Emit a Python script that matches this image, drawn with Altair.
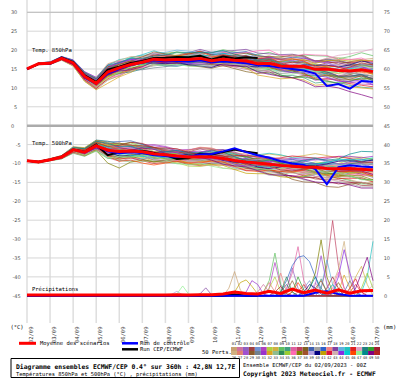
import json
import altair as alt
import pandas as pd

MONO = "DejaVu Sans Mono"
SANS = "DejaVu Sans"

# ---------------- time axis ----------------
day_hours = [0, 24, 48, 72, 96, 120, 144, 168, 192, 216, 240, 264, 288, 312, 336, 360]
date_labels = ["02/09", "03/09", "04/09", "05/09", "06/09", "07/09", "08/09", "09/09",
               "10/09", "11/09", "12/09", "13/09", "14/09", "15/09", "16/09", "17/09"]
hours12 = list(range(0, 361, 12))
hours6 = list(range(0, 361, 6))
op_hours = hours12[:21]
mem_hours = [0, 12, 24, 36, 48, 60, 72, 84, 96, 120, 144, 168, 192, 216, 240, 264, 288, 312, 336, 360]
mid_hours = [108, 132, 156, 180, 204, 228, 252, 276, 300, 324, 348]

# ---------------- axis labels ----------------
grid_vals = [30, 25, 20, 15, 10, 5, 0, -5, -10, -15, -20, -25, -30, -35, -40, -45]
left_upper = [30, 25, 20, 15, 10, 5]
left_lower = [-5, -10, -15, -20, -25, -30, -35, -40, -45]
right_ticks = [75, 70, 65, 60, 55, 50, 45, 40, 35, 30, 25, 20, 15, 10, 5]

# ---------------- 850 hPa (°C) ----------------
mean850 = [15.0, 16.4, 16.5, 17.8, 16.6, 13.0, 11.2, 14.2, 15.3, 16.2, 16.8, 17.6, 17.4, 17.5, 17.5, 17.8,
           17.2, 17.6, 17.3, 17.1, 16.4, 16.5, 15.8, 15.7, 15.7, 14.9, 15.0, 14.6, 14.5, 14.8, 14.3]
ctrl850 = [15.0, 16.4, 16.4, 17.9, 16.4, 12.7, 11.0, 13.8, 15.0, 16.0, 16.7, 17.3, 17.0, 17.2, 17.0, 17.3,
           16.8, 17.0, 16.8, 16.5, 16.0, 15.8, 15.4, 15.0, 14.6, 13.8, 10.5, 11.0, 9.8, 11.8, 11.6]
op850 = [15.0, 16.3, 16.4, 18.0, 16.8, 13.3, 11.5, 14.8, 15.6, 16.6, 17.1, 17.9, 18.0, 18.2, 18.1, 18.5,
         17.5, 18.3, 17.8, 18.1, 17.9]

# ---------------- 500 hPa (°C) ----------------
mean500 = [-9.3, -9.6, -9.0, -8.3, -6.4, -7.0, -5.3, -6.5, -6.8, -6.7, -6.9, -7.4, -7.7, -8.0, -8.3, -8.2,
           -8.3, -8.7, -9.2, -9.6, -9.9, -10.2, -10.5, -10.7, -10.9, -11.0, -11.3, -11.4, -11.3, -11.5, -11.7]
ctrl500 = [-9.3, -9.6, -9.0, -8.3, -6.4, -7.0, -5.3, -6.8, -7.3, -7.0, -7.2, -7.8, -8.0, -8.3, -8.2, -7.6,
           -7.5, -6.8, -6.0, -7.0, -7.8, -8.5, -9.4, -10.0, -10.4, -11.5, -15.5, -11.0, -10.5, -10.8, -11.0]
op500 = [-9.3, -9.6, -9.0, -8.2, -6.3, -6.9, -5.0, -7.8, -7.0, -6.8, -6.6, -7.2, -7.8, -8.8, -8.6, -7.4,
         -7.6, -7.0, -6.3, -6.9, -7.3]

# ---------------- precipitation (mm) ----------------
meanpr = [0.2, 0.2, 0.2, 0.2, 0.2, 0.2, 0.2, 0.2, 0.2, 0.2, 0.2, 0.2, 0.2, 0.3, 0.2, 0.3,
          0.3, 0.5, 1.0, 0.6, 0.5, 1.2, 0.6, 1.8, 0.8, 1.5, 0.7, 1.6, 0.7, 1.3, 1.4]
ctrlpr = [0.0, 0.0, 0.0, 0.0, 0.0, 0.0, 0.0, 0.0, 0.0, 0.0, 0.0, 0.0, 0.0, 0.0, 0.0, 0.0,
          0.0, 0.0, 0.0, 0.0, 0.0, 0.0, 0.0, 0.0, 0.0, 0.8, 1.2, 0.5, 0.0, 0.0, 0.0]
oppr = [0.0, 0.0, 0.0, 0.0, 0.0, 0.0, 0.0, 0.0, 0.0, 0.0, 0.0, 0.0, 0.0, 0.0, 0.0, 0.0,
        0.0, 0.0, 0.4, 0.0, 0.0]

# ------- 50 perturbed members: deviation from the mean (tenths of °C) at mem_hours -------
dev850 = [
    "0 1 2 3 5 8 10 15 12 8 10 12 15 18 20 22 25 28 30 35",
    "0 -1 -2 -3 -6 -10 -12 -18 -15 -12 -10 -14 -16 -18 -20 -24 -26 -30 -32 -36",
    "0 2 3 4 6 5 3 -5 -8 -4 2 6 10 8 4 -2 -8 -12 -6 4",
    "0 -2 -1 2 4 9 12 10 6 -2 -8 -12 -10 -6 2 10 16 20 24 18",
    "0 1 -1 -2 -4 -6 -8 -10 -4 4 10 14 18 20 16 10 4 -4 -10 -16",
    "0 0 1 3 7 12 15 20 18 14 8 2 -4 -10 -16 -20 -22 -26 -30 -34",
    "0 -1 0 -1 -2 -3 2 8 12 16 18 14 10 4 -4 -10 -14 -8 2 12",
    "0 2 2 1 0 -4 -10 -20 -22 -16 -8 0 6 10 14 18 12 6 0 -6",
    "0 -2 -3 -4 -7 -12 -15 -8 -2 6 12 16 20 22 24 26 30 34 38 42",
    "0 1 3 5 8 10 6 2 4 8 4 -2 -8 -14 -20 -26 -30 -34 -38 -44",
    "0 0 -1 -3 -5 -4 -2 4 10 12 6 -4 -10 -6 0 6 2 -6 -14 -20",
    "0 2 1 0 -1 2 6 12 16 10 2 -6 -12 -16 -12 -6 0 8 14 20",
    "0 -1 -2 -1 1 4 8 14 6 -4 -12 -16 -20 -22 -26 -28 -24 -18 -10 -4",
    "0 1 2 4 6 8 10 4 -4 -10 -14 -8 0 8 14 18 22 26 20 14",
    "0 -3 -3 -5 -8 -12 -16 -22 -20 -16 -12 -8 -4 0 4 -4 -12 -20 -26 -30",
    "0 2 4 5 6 3 0 -6 -10 -6 0 8 16 20 22 18 12 4 -4 -12",
    "0 -1 1 2 2 -2 -6 -12 -6 2 8 4 -2 -8 -14 -8 0 10 18 26",
    "0 1 0 -2 -3 -8 -12 -4 4 8 12 18 22 26 28 30 26 20 14 8",
    "0 0 2 3 4 6 4 8 12 18 20 22 18 12 6 0 -6 -14 -22 -30",
    "0 -2 -1 0 3 6 10 18 22 20 16 10 4 -2 -8 -14 -18 -10 -2 6",
    "0 1 1 -1 -4 -9 -14 -18 -12 -6 -2 4 8 4 -2 -10 -18 -26 -34 -40",
    "0 -1 -3 -4 -6 -6 -4 0 6 10 14 10 6 2 8 14 20 28 45 60",
    "0 2 3 3 2 0 -2 -8 -14 -18 -16 -12 -6 0 6 12 8 2 -6 -12",
    "0 0 -2 -2 0 4 6 10 8 4 0 -4 -8 -12 -18 -24 -28 -32 -28 -22",
    "0 1 2 2 1 -1 -4 -2 2 6 10 14 16 12 8 4 10 16 22 28",
    "0 -1 0 1 4 10 14 22 20 14 6 0 -6 -12 -8 -2 4 -2 -8 -14",
    "0 1 -1 -3 -6 -10 -12 -14 -8 0 4 8 12 16 12 6 -2 -10 -18 -24",
    "0 -2 -2 -1 -2 -4 -6 -2 2 -2 -6 -10 -14 -10 -4 4 12 18 10 2",
    "0 2 3 4 5 7 8 6 10 14 16 12 8 14 20 24 28 24 18 12",
    "0 0 0 2 4 2 -2 -10 -16 -20 -18 -14 -10 -6 -10 -14 -8 0 8 16",
    "0 -1 2 4 8 13 16 16 12 6 0 -6 -2 4 10 16 22 16 8 0",
    "0 1 -2 -4 -8 -13 -17 -30 -24 -10 -4 -2 -6 -14 -30 -34 -36 -40 -42 -46",
    "0 0 1 -1 -2 0 3 6 2 -2 2 6 10 6 0 -6 -4 4 12 20",
    "0 2 1 3 3 5 -2 -6 -2 4 -2 -8 -4 2 8 4 -4 -12 -16 -24",
    "0 -1 -2 0 2 -3 -8 -14 -10 -2 6 10 4 -2 -6 2 10 6 -2 -8",
    "0 1 3 2 -1 -6 -10 -16 -20 -14 -6 2 10 18 34 28 32 36 30 24",
    "0 -2 0 -2 -3 2 6 2 -4 -8 -2 4 -2 -8 -4 -12 -20 -16 -24 -18",
    "0 0 -1 1 5 9 12 14 8 2 -4 -2 2 6 2 -4 -10 -16 -22 -18",
    "0 1 2 1 -2 -5 -6 0 4 2 8 12 6 0 -6 -2 6 14 8 2",
    "0 -1 1 -1 0 3 -3 -8 -6 -2 -10 -14 -18 -14 -8 -2 4 10 16 22",
    "0 2 0 1 -1 -4 -7 -12 -14 -8 2 -4 -10 -4 4 12 18 22 26 30",
    "0 -2 -2 -3 -5 -8 -8 -6 0 6 2 -2 2 8 14 8 0 -8 -14 -20",
    "0 1 1 2 3 4 2 -2 6 12 6 0 -6 -12 -18 -14 -6 2 -4 -10",
    "0 0 2 4 6 7 9 10 14 4 -4 -10 -6 2 -2 -10 -16 -22 -28 -34",
    "0 -1 -1 -2 -1 -2 0 4 0 -6 -2 8 14 10 4 -2 -8 -2 6 -4",
    "0 1 -1 0 1 0 -5 -10 -6 0 10 16 12 6 12 18 14 8 2 -6",
    "0 -2 1 2 0 -5 -9 -16 -12 -8 -14 -18 -14 -8 -14 -20 -14 -6 2 10",
    "0 2 2 3 6 11 13 18 14 10 14 18 22 16 10 6 -2 -8 -14 -20",
    "0 0 -2 -3 -4 -1 1 -4 -8 -12 -8 -4 -8 -14 -22 -28 -40 -45 -55 -70",
    "0 1 0 -1 1 5 4 8 4 0 -6 -2 4 10 6 2 -4 2 10 18",
]
# deviations (tenths of °C) at mid_hours
dev850_mid = [
    "6 13 8 17 13 24 16 28 21 34 27",
    "-18 -8 -10 -20 -13 -22 -18 -30 -24 -36 -30",
    "-2 -5 9 4 14 2 6 -10 -5 -15 4",
    "5 -9 -6 -15 -4 -6 10 9 23 17 26",
    "-4 10 8 20 15 22 9 12 -5 -2 -18",
    "12 15 1 3 -11 -9 -23 -16 -29 -23 -38",
    "18 13 20 8 11 -4 -3 -17 -6 -8 12",
    "-15 -16 0 -1 12 8 20 11 14 -2 2",
    "6 5 18 14 25 19 29 24 36 31 45",
    "2 10 -3 -1 -15 -13 -27 -24 -36 -32 -46",
    "15 5 5 -11 -4 -7 7 0 2 -14 -13",
    "9 10 -6 -5 -18 -10 -13 1 0 15 13",
    "5 -12 -10 -22 -17 -28 -23 -30 -17 -18 -3",
    "-11 -8 -15 0 0 15 12 24 20 27 13",
    "-14 -18 -6 -10 2 -2 4 -12 -12 -27 -24",
    "-12 1 0 16 14 25 16 19 4 4 -12",
    "2 1 10 -3 -1 -15 -7 -8 9 10 26",
    "2 14 11 24 20 31 25 32 19 21 7",
    "19 15 25 16 19 5 7 -7 -6 -22 -22",
    "17 22 9 11 -3 -1 -15 -12 -18 -2 -2",
    "-13 0 -3 10 2 5 -10 -10 -26 -26 -41",
    "4 16 8 12 0 9 7 21 20 40 48",
    "-20 -13 -18 -5 -7 7 5 14 1 2 -13",
    "10 -2 2 -10 -6 -19 -17 -30 -26 -34 -21",
    "0 12 8 19 10 14 2 11 9 23 21",
    "21 6 7 -7 -5 -14 -1 -3 5 -9 -7",
    "0 -2 10 6 18 10 13 -2 -2 -18 -17",
    "4 -8 -4 -16 -8 -11 4 4 19 10 10",
    "8 19 10 14 7 21 18 30 22 25 11",
    "-14 -23 -12 -16 -4 -12 -8 -15 0 0 16",
    "13 -1 1 -8 5 3 17 15 23 8 8",
    "-21 -3 -7 0 -14 -18 -36 -31 -42 -37 -48",
    "-4 4 0 12 4 7 -7 -1 -4 12 12",
    "5 -3 -1 -10 3 1 10 -4 -4 -18 -16",
    "-2 -2 12 3 5 -8 2 2 12 -2 -1",
    "-13 -14 2 2 18 22 35 26 38 29 31",
    "-10 -1 -3 5 -9 -2 -12 -12 -22 -16 -25",
    "9 -5 1 -4 8 0 3 -11 -9 -23 -16",
    "-1 9 6 13 -1 1 -8 6 6 15 1",
    "0 -10 -8 -20 -12 -15 -1 -3 11 9 23",
    "-15 1 -5 -3 -11 4 4 19 16 28 24",
    "7 0 4 -4 9 7 15 0 0 -15 -13",
    "5 13 -1 1 -13 -11 -20 -6 -6 3 -11",
    "13 -4 -3 -12 2 -4 -2 -17 -15 -29 -27",
    "1 -8 7 7 16 3 5 -9 -1 -2 5",
    "-7 9 9 18 5 13 11 20 7 9 -6",
    "-6 -15 -12 -20 -7 -15 -13 -21 -6 -6 10",
    "16 8 20 16 23 9 12 -2 -1 -15 -13",
    "-14 -6 -10 -2 -15 -14 -29 -30 -46 -46 -66",
    "6 -7 0 -3 11 4 8 -5 3 2 18",
]
dev500 = [
    "0 1 2 3 6 8 12 18 22 16 10 4 -2 -8 -14 -18 -22 -26 -30 -34",
    "0 -1 -2 -4 -8 -10 -12 -20 -26 -20 -14 -8 -2 4 10 14 18 22 26 20",
    "0 1 0 2 4 2 -4 -10 -6 2 8 14 18 20 16 10 4 -4 -12 -20",
    "0 -2 -1 -2 -3 -6 -8 -4 4 10 14 10 4 -4 -10 -16 -24 -30 -36 -42",
    "0 0 2 4 8 10 13 20 14 6 -2 -10 -16 -20 -18 -12 -6 2 10 18",
    "0 1 -1 -3 -6 -4 0 6 12 18 22 20 14 8 2 -4 -10 -16 -10 -2",
    "0 -1 1 1 2 5 8 2 -6 -14 -20 -24 -20 -14 -8 -2 6 14 22 30",
    "0 2 3 4 5 3 -3 -14 -22 -16 -8 0 8 14 20 26 30 34 30 26",
    "0 -2 -3 -5 -9 -11 -14 -22 -18 -10 -2 6 10 6 0 -8 -16 -24 -32 -38",
    "0 0 1 -1 -1 2 6 12 18 20 16 8 0 -8 -16 -22 -26 -20 -12 -4",
    "0 1 2 2 3 6 10 16 10 2 -4 -8 -12 -16 -20 -24 -20 -14 -6 4",
    "0 -1 -2 -1 -4 -8 -10 -6 0 8 14 18 22 26 24 18 10 2 -6 -14",
    "0 0 -1 1 2 0 -4 -12 -16 -20 -16 -10 -4 2 8 4 -4 -12 -22 -30",
    "0 1 1 3 6 9 14 22 26 20 12 6 2 -4 -10 -6 2 10 18 24",
    "0 -1 0 -2 -5 -7 -10 -16 -10 -4 2 -4 -10 -16 -22 -28 -34 -38 -40 -45",
    "0 2 2 2 0 -2 -2 4 8 12 6 0 -4 0 6 12 16 12 6 0",
    "0 -1 -2 -3 -2 1 4 8 2 -6 -12 -18 -22 -18 -12 -6 0 8 16 12",
    "0 1 0 1 4 7 10 8 14 10 4 12 18 22 18 14 8 0 -8 -16",
    "0 0 2 3 2 -3 -8 -18 -24 -18 -10 -4 0 -6 -12 -18 -14 -6 2 8",
    "0 -2 -1 0 -1 -4 -6 -2 -8 -12 -6 2 10 16 22 28 24 18 12 6",
    "0 1 1 0 -3 -6 -10 -14 -20 -24 -20 -14 -8 -2 4 -2 -10 -18 -26 -32",
    "0 0 -1 -2 -5 -8 -4 6 10 6 12 16 12 6 0 -6 -12 -8 -2 4",
    "0 -1 1 3 7 11 15 24 20 14 8 2 -2 -6 -2 4 10 16 22 28",
    "0 1 -1 -1 0 4 2 -6 -12 -8 -2 4 8 12 8 2 -6 -14 -20 -26",
    "0 2 1 1 3 1 -2 -8 -4 4 10 6 0 -6 -12 -20 -28 -34 -38 -40",
    "0 -1 0 2 5 7 6 14 8 0 -6 -12 -18 -24 -20 -14 -6 4 14 22",
    "0 0 -2 -3 -7 -9 -12 -8 -2 6 12 18 24 20 14 8 2 -4 -10 -16",
    "0 1 2 1 2 5 3 -4 2 8 2 -4 -10 -4 2 8 14 20 14 8",
    "0 -2 -2 -4 -6 -3 -6 -12 -16 -10 -16 -20 -16 -10 -16 -22 -40 -48 -42 -38",
    "0 0 1 0 1 -2 4 10 6 -2 -8 -2 4 10 4 -2 -8 -2 6 14",
    "0 1 -1 -2 -4 -2 -6 -2 6 14 20 14 8 2 8 14 20 26 32 36",
    "0 -1 2 4 8 12 14 20 16 8 2 -6 -12 -8 -2 -8 -14 -20 -14 -8",
    "0 2 0 -1 -3 -6 -8 -16 -24 -26 -20 -12 -6 -12 -18 -24 -18 -10 -2 4",
    "0 0 -1 1 3 4 8 4 -2 -6 0 6 12 18 12 6 0 6 12 18",
    "0 -1 1 2 0 -2 2 14 20 14 6 -2 -8 -2 4 10 4 -2 -10 -18",
    "0 1 0 -2 -2 2 -2 -8 -4 0 -6 -10 -4 2 -4 -10 -16 -24 -16 -8",
    "0 -2 -1 -1 -4 -9 -12 -34 -44 -22 -14 -6 0 6 12 6 -2 -10 -18 -26",
    "0 0 2 3 5 8 11 16 22 16 10 14 20 14 8 2 -4 -10 -4 2",
    "0 1 -2 -2 -2 -1 -3 2 -4 -10 -14 -8 -2 4 10 16 22 16 10 4",
    "0 -1 0 -1 1 3 5 -4 -12 -6 2 8 2 -4 -10 -4 4 12 20 26",
    "0 2 1 2 4 6 9 12 4 -4 -10 -16 -20 -24 -28 -30 -24 -16 -8 0",
    "0 -1 -1 -3 -6 -5 -2 4 10 4 -2 2 8 12 16 20 26 30 26 20",
    "0 1 2 4 6 4 0 -6 0 6 -2 -10 -14 -10 -6 -12 -18 -26 -34 -42",
    "0 0 -2 -2 -1 -4 -6 -10 -6 2 8 2 -4 -10 -4 2 8 2 -6 -12",
    "0 -1 1 1 2 2 4 8 -2 -12 -8 0 6 -2 -8 0 8 16 24 32",
    "0 2 0 -1 -2 0 -2 -16 -26 -30 -22 -16 -10 -16 -22 -16 -8 0 -8 -16",
    "0 -2 -2 -2 -4 -8 -13 -20 -14 -8 -14 -20 -24 -20 -14 -8 -2 -10 -20 -28",
    "0 1 2 3 6 9 12 18 12 4 8 12 16 10 4 10 16 22 38 48",
    "0 0 -1 0 -1 -2 -6 -4 2 10 4 -2 -8 -14 -20 -26 -32 -38 -44 -48",
    "0 1 -1 0 3 6 8 10 16 22 18 12 6 0 -6 -12 -6 0 -6 -12",
]
dev500_mid = [
    "15 17 3 5 -9 -7 -20 -16 -28 -24 -36",
    "-19 -21 -7 -9 5 3 16 12 24 20 27",
    "2 1 15 12 23 14 17 3 4 -12 -12",
    "3 16 8 11 -4 -3 -17 -16 -31 -29 -43",
    "14 -2 -2 -17 -14 -23 -11 -13 2 2 18",
    "11 24 17 21 7 9 -5 -3 -17 -9 -10",
    "-6 -21 -18 -26 -13 -15 -1 -2 14 14 30",
    "-15 -16 0 0 15 13 27 24 36 28 32",
    "-18 -2 -2 12 4 7 -8 -8 -24 -24 -39",
    "23 14 16 0 0 -16 -15 -28 -19 -20 -4",
    "10 -5 -2 -14 -10 -22 -18 -26 -13 -14 3",
    "0 15 12 24 20 29 17 18 2 2 -14",
    "-14 -22 -9 -11 3 1 10 -4 -4 -21 -22",
    "27 12 13 0 3 -11 -4 -6 10 10 25",
    "-11 3 -5 -3 -17 -15 -29 -27 -40 -35 -47",
    "6 13 -1 2 -6 7 5 18 10 13 -1",
    "2 -13 -11 -24 -16 -19 -5 -7 8 8 18",
    "16 3 12 11 24 16 20 7 8 -8 -8",
    "-25 -10 -11 2 -7 -5 -19 -12 -14 2 1",
    "-6 -13 2 2 17 15 29 22 25 11 13",
    "-18 -26 -13 -15 -1 -3 5 -10 -10 -26 -25",
    "12 5 18 10 13 -1 1 -13 -6 -9 5",
    "13 15 1 4 -8 0 -3 11 9 23 21",
    "-14 -1 -3 10 6 14 1 2 -14 -13 -27",
    "4 3 12 -1 1 -13 -12 -28 -27 -40 -35",
    "0 1 -13 -11 -25 -18 -21 -6 -5 13 14",
    "-2 13 11 25 18 21 7 9 -5 -3 -17",
    "9 1 3 -11 -3 -5 9 7 21 13 15",
    "-9 -17 -14 -22 -9 -17 -15 -35 -40 -49 -36",
    "6 -9 -1 -3 11 3 5 -9 -1 -2 14",
    "6 21 13 15 1 9 7 21 19 33 30",
    "16 1 2 -13 -6 -9 -1 -15 -13 -21 -7",
    "-29 -19 -20 -5 -13 -11 -25 -17 -18 -2 -3",
    "0 -7 7 5 19 11 13 -1 7 5 19",
    "21 6 6 -9 -1 -3 11 3 5 -10 -10",
    "-6 1 -12 -3 -5 3 -11 -9 -24 -16 -16",
    "-29 -22 -6 -7 7 5 13 -2 -2 -18 -18",
    "15 17 8 21 13 15 1 3 -11 -3 -5",
    "-3 -16 -7 -9 5 3 17 15 23 9 11",
    "-13 2 1 9 -5 -3 -11 4 4 20 19",
    "4 -11 -9 -22 -18 -30 -25 -31 -16 -16 0",
    "3 5 -4 9 6 18 14 27 24 32 19",
    "7 -2 -2 -16 -8 -12 -5 -19 -18 -34 -34",
    "2 1 9 -5 -3 -11 3 1 9 -6 -5",
    "-11 -6 -8 7 -2 -1 -8 8 8 24 24",
    "-24 -30 -15 -17 -9 -23 -15 -16 0 -8 -8",
    "-15 -7 -21 -18 -26 -13 -15 -1 -10 -11 -28",
    "12 2 14 10 17 3 11 9 23 26 47",
    "2 11 -3 -1 -15 -13 -27 -25 -39 -37 -50",
    "23 16 19 5 7 -7 -5 -13 1 -7 -5",
]

# member precipitation peaks (hour, mm); other 6-hourly steps are dry
precip_spikes = {
    1: [(210, 2.0), (216, 6.4), (222, 1.5)],
    2: [(240, 1.0), (246, 3.0), (252, 1.0)],
    3: [(270, 1.5), (276, 7.4), (282, 2.0)],
    5: [(288, 2.0), (294, 4.0), (300, 1.0)],
    6: [(252, 2.0), (258, 8.8), (264, 2.5)],
    7: [(252, 2.0), (258, 5.0), (264, 1.0)],
    8: [(336, 2.0), (342, 5.0), (348, 7.8), (354, 3.0)],
    9: [(246, 1.0), (252, 4.0), (258, 11.3), (264, 3.0), (270, 0.5)],
    10: [(300, 1.0), (306, 4.5), (312, 1.0)],
    11: [(270, 2.0), (276, 6.0), (282, 13.0), (288, 4.0), (294, 1.0)],
    12: [(306, 2.0), (312, 8.0), (318, 19.9), (324, 8.0), (330, 2.0)],
    13: [(318, 1.0), (324, 3.5), (330, 1.0)],
    14: [(330, 1.0), (336, 4.0), (342, 1.0)],
    16: [(264, 1.0), (270, 4.0), (276, 8.0), (282, 10.2), (288, 10.6), (294, 9.0), (300, 5.0), (306, 1.0)],
    17: [(258, 1.5), (264, 6.0), (270, 1.0)],
    18: [(180, 0.5), (186, 2.1), (192, 0.3)],
    19: [(306, 2.0), (312, 9.5), (318, 3.0)],
    20: [(348, 1.0), (354, 5.0), (360, 14.4)],
    21: [(282, 1.0), (288, 3.0), (294, 0.5), (336, 1.0), (342, 3.0), (348, 1.0)],
    22: [(294, 1.0), (300, 3.5), (306, 1.0)],
    23: [(264, 1.0), (270, 3.0), (276, 1.0)],
    24: [(276, 1.0), (282, 5.0), (288, 1.5)],
    25: [(312, 2.0), (318, 5.0), (324, 2.0)],
    26: [(318, 3.0), (324, 7.0), (330, 14.4), (336, 4.0), (342, 1.0)],
    27: [(246, 1.0), (252, 3.5), (258, 1.0)],
    28: [(300, 3.0), (306, 10.6), (312, 3.0)],
    29: [(270, 1.0), (276, 4.0), (282, 1.0)],
    31: [(228, 1.0), (234, 4.0), (240, 3.0), (246, 0.5)],
    32: [(324, 1.0), (330, 5.5), (336, 2.0)],
    34: [(264, 1.0), (270, 5.0), (276, 1.0)],
    35: [(348, 2.0), (354, 6.0), (360, 2.0)],
    36: [(318, 2.0), (324, 6.2), (330, 2.0)],
    37: [(294, 2.0), (300, 6.0), (306, 14.8), (312, 5.0), (318, 1.0)],
    38: [(300, 2.0), (306, 4.0), (312, 1.0)],
    39: [(150, 0.3), (156, 1.2), (162, 0.2)],
    40: [(288, 1.0), (294, 3.0), (300, 2.0), (306, 0.5)],
    41: [(216, 1.0), (222, 3.5), (228, 4.2), (234, 2.5), (240, 0.5)],
    42: [(336, 2.0), (342, 4.5), (348, 1.0)],
    43: [(354, 1.0), (360, 3.0)],
    44: [(318, 1.0), (324, 5.0), (330, 12.2), (336, 6.0), (342, 1.0)],
    45: [(312, 1.0), (318, 3.0), (324, 1.0)],
    46: [(276, 1.0), (282, 3.5), (288, 1.0)],
    47: [(156, 0.5), (162, 2.6), (168, 0.5)],
    48: [(294, 2.0), (300, 5.0), (306, 2.0)],
    49: [(342, 2.0), (348, 6.0), (354, 10.2), (360, 4.0)],
    50: [(258, 1.0), (264, 2.5), (270, 0.5)],
}

member_colors = [
    "#c8a070", "#d070a0", "#9060c0", "#a04040", "#7090d0", "#b040c0", "#b0d040", "#d0b040", "#60c060", "#40a080",
    "#e060a0", "#c04060", "#806020", "#4060b0", "#a0a0a0", "#3060c8", "#f08080", "#8040a0", "#60b0e0", "#20c0c0",
    "#e02020", "#e0a0c0", "#208080", "#30a030", "#a02030", "#d0b080", "#e08070", "#a050d0", "#8b5a2b", "#708090",
    "#9932cc", "#daa520", "#8fbc8f", "#2e8b57", "#9acd32", "#ff69b4", "#808000", "#a0522d", "#b0a0e0", "#000080",
    "#c0a000", "#dc143c", "#d0b0b0", "#8a2be2", "#00ced1", "#ff4500", "#90ee90", "#008b8b", "#800080", "#b22222",
]
member_names = [f"{i:02d}" for i in range(1, 51)]

# ---------------- build tables ----------------
assert len(mean850) == len(ctrl850) == len(mean500) == len(ctrl500) == len(meanpr) == len(ctrlpr) == 31
assert len(op850) == len(op500) == len(oppr) == 21
PR0 = -45.0  # precipitation baseline on the left axis (right axis = left + 45)

m850 = dict(zip(hours12, mean850))
m500 = dict(zip(hours12, mean500))
rows = []
for i, name in enumerate(member_names):
    d8 = [float(x) for x in dev850[i].split()]
    d5 = [float(x) for x in dev500[i].split()]
    d8m = [float(x) for x in dev850_mid[i].split()]
    d5m = [float(x) for x in dev500_mid[i].split()]
    assert len(d8) == 20 and len(d5) == 20 and len(d8m) == 11 and len(d5m) == 11, i
    for h, dv in list(zip(mem_hours, d8)) + list(zip(mid_hours, d8m)):
        rows.append({"h": h, "v": m850[h] + dv / 10.0, "m": name, "key": "a" + name})
    for h, dv in list(zip(mem_hours, d5)) + list(zip(mid_hours, d5m)):
        rows.append({"h": h, "v": m500[h] + dv / 10.0, "m": name, "key": "b" + name})
    sp = dict(precip_spikes.get(i + 1, []))
    for h in hours6:
        rows.append({"h": h, "v": PR0 + sp.get(h, 0.0), "m": name, "key": "c" + name})
mdf = pd.DataFrame(rows).sort_values(["key", "h"]).reset_index(drop=True)


def series_df(hours, a, b, c):
    r = []
    for h, v in zip(hours, a):
        r.append({"h": h, "v": v, "key": "a"})
    for h, v in zip(hours, b):
        r.append({"h": h, "v": v, "key": "b"})
    for h, v in zip(hours, c):
        r.append({"h": h, "v": PR0 + v, "key": "c"})
    return pd.DataFrame(r)


mean_df = series_df(hours12, mean850, mean500, meanpr)
ctrl_df = series_df(hours12, ctrl850, ctrl500, ctrlpr)
op_df = series_df(op_hours, op850, op500, oppr)

# ---------------- scales ----------------
xs = alt.Scale(domain=[0, 360], nice=False, zero=False)
ys = alt.Scale(domain=[-52.2, 33.25], nice=False, zero=False)
xaxis = alt.Axis(values=day_hours, labelExpr=json.dumps(date_labels) + "[round(datum.value/24)]",
                 labelAngle=-90, labelAlign="right", labelBaseline="middle", labelPadding=3,
                 labelOffset=3, labelFont=MONO, labelFontSize=5.5, labelColor="#333333",
                 labelFlush=False, labelOverlap=False, domain=False, ticks=False, grid=False, title=None)
X = alt.X("h:Q", scale=xs, axis=xaxis)
Y = alt.Y("v:Q", scale=ys, axis=None)
C = alt.Color("m:N", scale=alt.Scale(domain=member_names, range=member_colors), legend=None)

vgrid = alt.Chart(pd.DataFrame({"h": day_hours})).mark_rule(color="#dedede", strokeWidth=1.5).encode(x=X)
hgrid = alt.Chart(pd.DataFrame({"v": grid_vals})).mark_rule(color="#d6d6d6", strokeWidth=1).encode(y=Y)
top_line = alt.Chart(pd.DataFrame({"v": [30]})).mark_rule(color="#bdbdbd", strokeWidth=1).encode(y=Y)
zero_line = alt.Chart(pd.DataFrame({"v": [0]})).mark_rule(color="#ababab", strokeWidth=2.5).encode(y=Y)

members = alt.Chart(mdf).mark_line(strokeWidth=0.7).encode(x=X, y=Y, color=C, detail="key:N")
op_line = alt.Chart(op_df).mark_line(color="#000000", strokeWidth=2).encode(x=X, y=Y, detail="key:N")
ctrl_line = alt.Chart(ctrl_df).mark_line(color="#0000ff", strokeWidth=2).encode(x=X, y=Y, detail="key:N")
mean_line = alt.Chart(mean_df).mark_line(color="#ff0000", strokeWidth=3).encode(x=X, y=Y, detail="key:N")


def txt(s, x, y, size=5.5, bold=False, align="left", font=MONO, color="#000000"):
    return alt.Chart(pd.DataFrame({"t": [s]})).mark_text(
        align=align, baseline="middle", fontSize=size, font=font,
        fontWeight="bold" if bold else "normal", color=color
    ).encode(x=alt.value(x), y=alt.value(y), text="t:N")


def ticklabels(vals, x, align, shift=0):
    df = pd.DataFrame({"r": vals, "lab": [str(v) for v in vals]})
    return alt.Chart(df).transform_calculate(v=f"datum.r - {shift}").mark_text(
        align=align, baseline="middle", fontSize=5, font=SANS, color="#555555"
    ).encode(x=alt.value(x), y=Y, text="lab:N")


lab_up = ticklabels(left_upper, -9.7, "right")
lab_zero = ticklabels([0], -16, "left")
lab_low = ticklabels(left_lower, -6.3, "right")
lab_right = ticklabels(right_ticks, 363, "right", shift=45)
lab_right0 = ticklabels([0], 357, "left", shift=45)

t850 = txt("Temp. 850hPa", 5, 49.5)
t500 = txt("Temp. 500hPa", 5, 143)
tpr = txt("Précipitations", 5, 289)
tdeg = txt("(°C)", -10, 327, align="center")
tmm = txt("(mm)", 356, 326.5)

# legend
leg_red = alt.Chart(pd.DataFrame({"a": [0]})).mark_rule(color="#ff0000", strokeWidth=3).encode(
    x=alt.value(-8), x2=alt.value(9), y=alt.value(343.3))
leg_blue = alt.Chart(pd.DataFrame({"a": [0]})).mark_rule(color="#0000ff", strokeWidth=2.5).encode(
    x=alt.value(95), x2=alt.value(111), y=alt.value(343.3))
leg_black = alt.Chart(pd.DataFrame({"a": [0]})).mark_rule(color="#000000", strokeWidth=2.5).encode(
    x=alt.value(95), x2=alt.value(111), y=alt.value(349.3))
l1 = txt("Moyenne des scénarios", 13, 343.3)
l2 = txt("Run de contrôle", 113, 343.3)
l3 = txt("Run CEP/ECMWF", 113, 349.3)
l4 = txt("50 Perts.", 175, 351.7)

cells_df = pd.DataFrame({"m": member_names, "i": list(range(50))})
cells_base = alt.Chart(cells_df).transform_calculate(
    col="datum.i % 25", row="floor(datum.i / 25)"
).transform_calculate(
    cx="204 + datum.col * 5.96", cx2="204 + (datum.col + 1) * 5.96",
    cy="347 + datum.row * 4", cy2="351 + datum.row * 4",
    tx="204 + (datum.col + 0.5) * 5.96", ty="344.3 + datum.row * 13.2"
)
cells = cells_base.mark_rect().encode(
    x=alt.X("cx:Q", scale=None, axis=None), x2="cx2:Q",
    y=alt.Y("cy:Q", scale=None, axis=None), y2="cy2:Q", color=C)
cell_nums = cells_base.mark_text(fontSize=3.8, font=MONO, color="#222222", baseline="middle", align="center").encode(
    x=alt.X("tx:Q", scale=None, axis=None), y=alt.Y("ty:Q", scale=None, axis=None), text="m:N")

# bottom boxes
box = alt.Chart(pd.DataFrame({"a": [0]})).mark_rect(fillOpacity=0, stroke="#000000", strokeWidth=1).encode(
    x=alt.value(-16), x2=alt.value(212.5), y=alt.value(358.5), y2=alt.value(377.5))
b1 = txt("Diagramme ensembles ECMWF/CEP 0.4° sur 360h : 42,8N 12,7E", -11, 366.5, size=6.4, bold=True)
b2 = txt("Températures 850hPa et 500hPa (°C) , précipitations (mm)", -11, 374.3, size=5.4)
b3 = txt("Ensemble ECMWF/CEP du 02/09/2023 - 00Z", 216, 364.5, size=5.4)
b4 = txt("Copyright 2023 Meteociel.fr - ECMWF", 216, 374.3, size=6.3, bold=True)

chart = alt.layer(
    vgrid, hgrid, top_line, zero_line,
    members, op_line, ctrl_line, mean_line,
    lab_up, lab_zero, lab_low, lab_right, lab_right0,
    t850, t500, tpr, tdeg, tmm,
    leg_red, leg_blue, leg_black, l1, l2, l3, l4,
    cells, cell_nums,
    box, b1, b2, b3, b4,
).properties(
    width=346, height=323,
    autosize=alt.AutoSizeParams(type="none"),
    padding={"left": 27, "top": 0, "right": 27, "bottom": 55},
    background="#ffffff",
).configure_view(stroke=None)

chart.save("out.html", embed_options={"renderer": "svg", "actions": False})
